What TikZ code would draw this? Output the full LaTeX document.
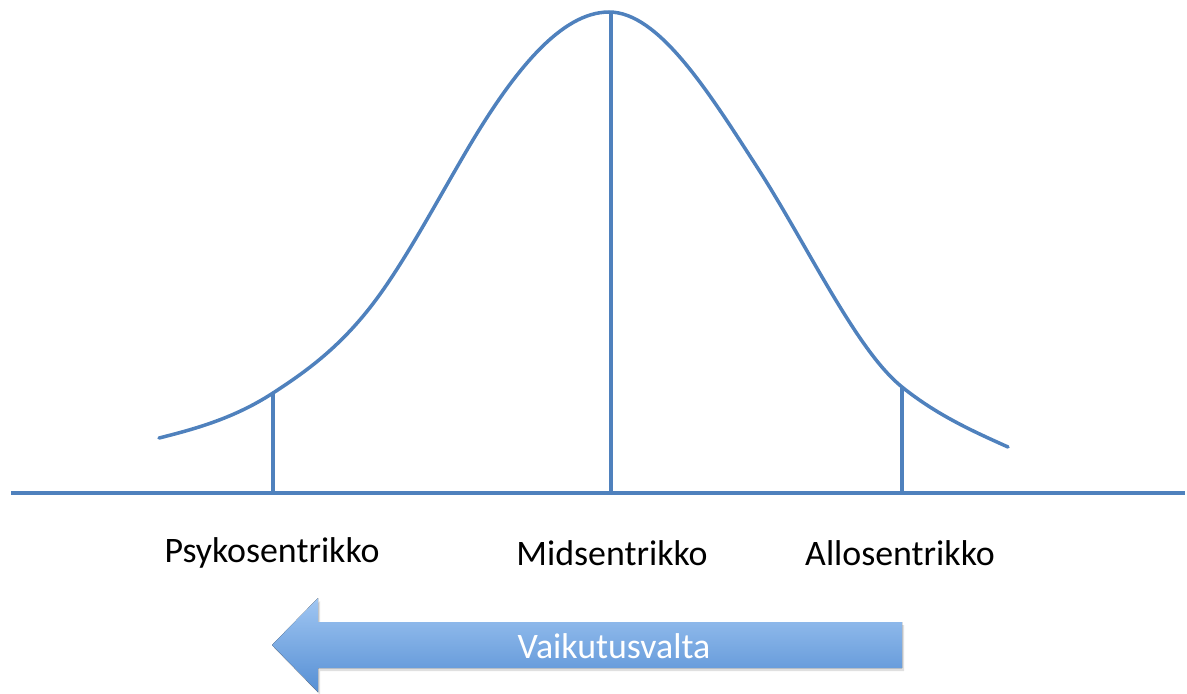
\documentclass[tikz,border=0pt]{standalone}
\usepackage{fontspec}
\setmainfont{Carlito}
\usetikzlibrary{positioning}
\definecolor{curveblue}{RGB}{79,129,189}
\definecolor{arrtop}{RGB}{160,198,242}
\definecolor{arrbot}{RGB}{86,143,212}
\tikzset{
  crv/.style={line width=2.5pt, curveblue, line cap=round, line join=round},
  tick/.style={line width=2.5pt, curveblue},
  lbl/.style={font=\fontsize{25.5}{30}\selectfont, text=black},
  arw/.style={top color=arrtop, bottom color=arrbot},
}

\begin{document}
\begin{tikzpicture}[x=0.025cm,y=-0.025cm]
  \useasboundingbox (0,0) rectangle (1187,693);
  % --- axis ---
  \coordinate (axL) at (11,493);
  \coordinate (axR) at (1185,493);
  \draw[tick] (axL) -- (axR);
  % --- bell curve ---
  \draw[crv] (159,438) .. controls (197,428.5) and (235,417.7) .. (273,393)
    .. controls (309.7,369.2) and (346.3,342.5) .. (383,290)
    .. controls (411,250) and (439,197.6) .. (467,150)
    .. controls (514.3,69.6) and (561.7,12) .. (609,12)
    .. controls (658.3,12) and (707.7,90.5) .. (757,167)
    .. controls (784.7,209.9) and (812.3,261.9) .. (840,307)
    .. controls (860.7,340.7) and (881.3,370.3) .. (902,387)
    .. controls (937.3,415.3) and (972.7,431.1) .. (1008,447);
  % --- markers ---
  \coordinate (psyB) at (273,493); \coordinate (psyT) at (273,393);
  \coordinate (midB) at (611,493); \coordinate (midT) at (611,12);
  \coordinate (allB) at (902,493); \coordinate (allT) at (902,387);
  \draw[tick] (psyB) -- (psyT);
  \draw[tick] (midB) -- (midT);
  \draw[tick] (allB) -- (allT);
  % --- labels ---
  \node[lbl] (psy) at (272,553) {Psykosentrikko};
  \node[lbl] (mid) at (612,553) {Midsentrikko};
  \node[lbl] (all) at (900,553) {Allosentrikko};
  % --- arrow ---
  \fill[black!12] (274,648) -- (320,601) -- (320,625) -- (904,625) -- (904,671)
    -- (320,671) -- (320,695) -- cycle;
  \fill[arw] (272,645) -- (318,598) -- (318,622) -- (902,622) -- (902,668)
    -- (318,668) -- (318,692) -- cycle;
  \node[lbl, text=white] (vai) at (614,646) {Vaikutusvalta};
\end{tikzpicture}
\end{document}
